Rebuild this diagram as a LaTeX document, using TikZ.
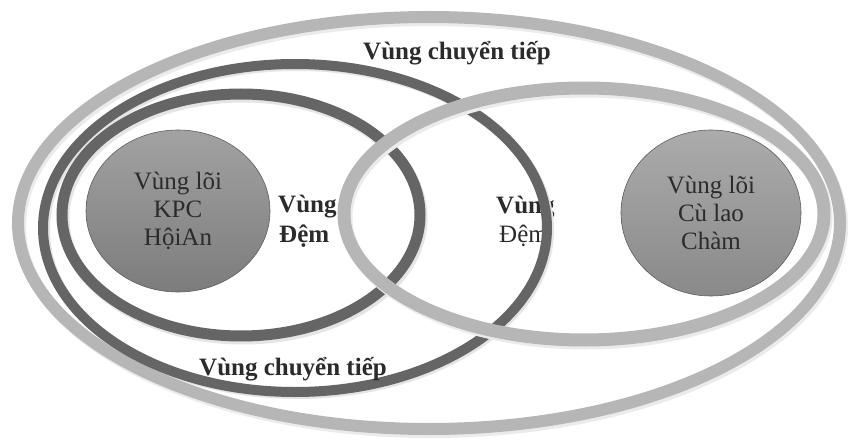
\documentclass[tikz,border=0pt]{standalone}
\usepackage{fontspec}
\setmainfont{Liberation Serif}
\definecolor{ringlight}{HTML}{B6B6B6}
\definecolor{ringdark}{HTML}{656565}
\definecolor{inktext}{HTML}{2B2B2B}
\definecolor{coretop}{HTML}{A2A2A2}
\definecolor{corebottom}{HTML}{7C7C7C}
\definecolor{coreedge}{HTML}{5E5E5E}
\tikzset{
  lightring/.style={draw=ringlight, line width=12pt},
  darkring/.style={draw=ringdark, line width=10pt},
  ringshadow/.style={draw=black!12, line width=12pt},
  zonelabel/.style={font=\fontsize{25}{30}\selectfont\bfseries, text=inktext, inner sep=0pt},
  plainlabel/.style={font=\fontsize{25}{30}\selectfont, text=inktext, inner sep=0pt},
  core/.style={ellipse, draw=coreedge, line width=0.6pt, top color=coretop, bottom color=corebottom,
    inner sep=0pt, align=center, text=inktext, font=\fontsize{25}{28}\selectfont},
}
\usetikzlibrary{shapes.geometric}
\begin{document}
\begin{tikzpicture}[x=1pt,y=-1pt]
  \useasboundingbox[fill=white] (0,0) rectangle (849,441);

  % buffer-zone labels sit below the rings
  \node[zonelabel, anchor=base] (transTop) at (457,60) {Vùng chuyển tiếp};
  \node[zonelabel, anchor=base west] (bufLeftA) at (278,212) {Vùng};
  \node[zonelabel, anchor=base west] (bufLeftB) at (279,242) {Đệm};
  \node[zonelabel, anchor=base west] (bufRightA) at (496,213) {Vùng};
  \node[plainlabel, anchor=base west] (bufRightB) at (499,242) {Đệm};

  % soft shadows of the rings
  \draw[ringshadow, draw=black!8] (431,226) ellipse [x radius=411pt, y radius=206pt];
  \draw[ringshadow, draw=black!10, line width=10pt] (297,230) ellipse [x radius=252pt, y radius=164pt];
  \draw[ringshadow, draw=black!10, line width=11pt] (243,218) ellipse [x radius=179pt, y radius=121pt];

  % rings
  \draw[lightring] (429,223) ellipse [x radius=411pt, y radius=206pt];
  \draw[darkring] (295,228) ellipse [x radius=252pt, y radius=164pt];
  \draw[darkring, line width=11pt] (241,215) ellipse [x radius=179pt, y radius=121pt];
  \draw[ringshadow, draw=black!8, line width=13pt] (586,217) ellipse [x radius=240pt, y radius=126pt];
  \draw[lightring, line width=13pt] (584,214) ellipse [x radius=240pt, y radius=126pt];

  % transition-zone label laid over the dark ring
  \node[zonelabel, anchor=base] (transBottom) at (293,375) {Vùng chuyển tiếp};

  % core zones
  \node[core, minimum width=184pt, minimum height=162pt] (coreHoiAn) at (178,211)
    {Vùng lõi\\KPC\\HộiAn};
  \node[core, minimum width=180pt, minimum height=166pt, top color=coretop!90!white, bottom color=corebottom!90!white] (coreCham) at (711,213)
    {Vùng lõi\\Cù lao\\Chàm};
\end{tikzpicture}
\end{document}
